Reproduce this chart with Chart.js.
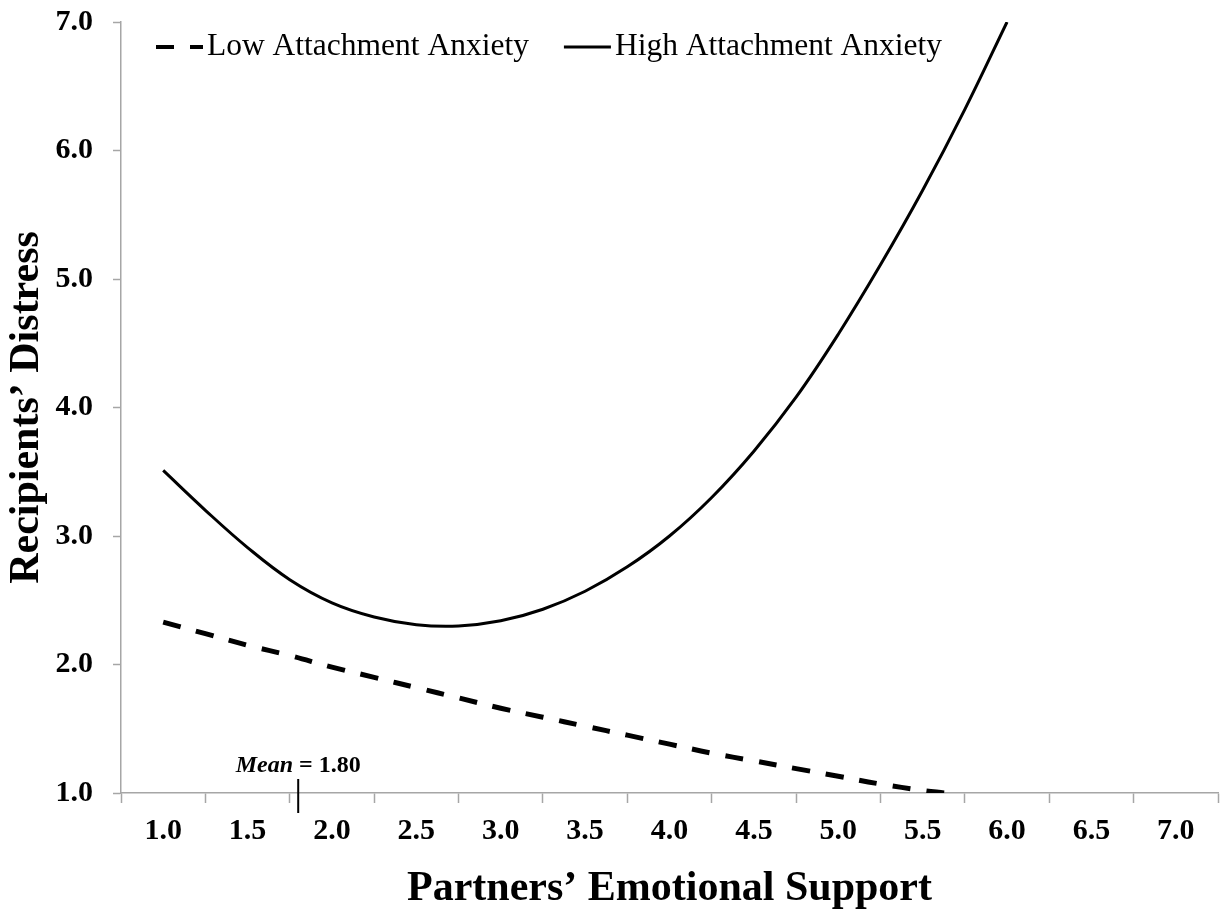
<!DOCTYPE html>
<html>
<head>
<meta charset="utf-8">
<title>Recipients’ Distress</title>
<script src="https://cdn.jsdelivr.net/npm/chart.js"></script>
<style>
  html, body { margin: 0; padding: 0; background: #fff; }
  #wrap { width: 1224px; height: 912px; }
</style>
</head>
<body>
<div id="wrap"><canvas id="distress-chart"></canvas></div>
<script>
// partners' support level (x) and recipients' predicted distress per group
const supportLow = [1.00, 1.25, 1.50, 1.75, 2.00, 2.25, 2.50, 2.75, 3.00, 3.25,
                    3.50, 3.75, 4.00, 4.25, 4.50, 4.75, 5.00, 5.25, 5.50, 5.63];
const distressLow = [2.33, 2.24, 2.15, 2.07, 1.98, 1.90, 1.82, 1.74, 1.66, 1.59,
                     1.52, 1.45, 1.38, 1.31, 1.25, 1.19, 1.13, 1.07, 1.02, 1.00];

const supportHigh = [1.00, 1.25, 1.50, 1.75, 2.00, 2.25, 2.50, 2.75, 3.00, 3.25, 3.50,
                     3.75, 4.00, 4.25, 4.50, 4.75, 5.00, 5.25, 5.50, 5.75, 6.00];
const distressHigh = [3.51, 3.20, 2.91, 2.66, 2.48, 2.37, 2.31, 2.30, 2.34, 2.43, 2.57,
                      2.76, 3.00, 3.30, 3.66, 4.08, 4.57, 5.11, 5.69, 6.32, 7.00];

const supportTicks = [1.0, 1.5, 2.0, 2.5, 3.0, 3.5, 4.0, 4.5, 5.0, 5.5, 6.0, 6.5, 7.0];
const distressTicks = [1.0, 2.0, 3.0, 4.0, 5.0, 6.0, 7.0];
const supportMean = 1.80;

const serif = "'Liberation Serif', 'Times New Roman', serif";
const axisGrey = '#a6a6a6';

const isLabelTick = v => supportTicks.some(t => Math.abs(t - v) < 1e-6);

// key drawn inside the plot, top left
const seriesKey = {
  id: 'seriesKey',
  afterDraw(chart) {
    const ctx = chart.ctx;
    const y = chart.chartArea.top + 25;
    let x = chart.chartArea.left + 35;
    ctx.save();
    ctx.font = '31.5px ' + serif;
    ctx.fillStyle = '#000';
    ctx.textBaseline = 'alphabetic';
    chart.data.datasets.forEach(ds => {
      ctx.beginPath();
      ctx.setLineDash(ds.borderDash || []);
      ctx.lineWidth = Math.min(ds.borderWidth, 4);
      ctx.strokeStyle = ds.borderColor;
      ctx.moveTo(x, y);
      ctx.lineTo(x + 47, y);
      ctx.stroke();
      ctx.setLineDash([]);
      x += 51;
      ctx.fillText(ds.label, x, y + 8);
      x += ctx.measureText(ds.label).width + 35;
    });
    ctx.restore();
  }
};

// short marker for the sample mean of support, crossing the x axis
const meanMarker = {
  id: 'meanMarker',
  afterDraw(chart) {
    const ctx = chart.ctx;
    const px = chart.scales.x.getPixelForValue(supportMean);
    const axisY = chart.scales.y.getPixelForValue(distressTicks[0]);
    ctx.save();
    ctx.strokeStyle = '#000';
    ctx.lineWidth = 2;
    ctx.beginPath();
    ctx.moveTo(px, axisY - 14);
    ctx.lineTo(px, axisY + 20);
    ctx.stroke();

    const word = 'Mean';
    const rest = ' = ' + supportMean.toFixed(2);
    ctx.font = 'italic bold 24px ' + serif;
    const w1 = ctx.measureText(word).width;
    ctx.font = 'bold 24px ' + serif;
    const w2 = ctx.measureText(rest).width;
    const start = px - (w1 + w2) / 2;
    ctx.fillStyle = '#000';
    ctx.textBaseline = 'alphabetic';
    ctx.font = 'italic bold 24px ' + serif;
    ctx.fillText(word, start, axisY - 21);
    ctx.font = 'bold 24px ' + serif;
    ctx.fillText(rest, start + w1, axisY - 21);
    ctx.restore();
  }
};

const ctxt = document.getElementById('distress-chart').getContext('2d');

const distressChart = new Chart(ctxt, {
  type: 'line',
  data: {
    datasets: [
      {
        label: 'Low Attachment Anxiety',
        data: supportLow.map((x, i) => ({ x, y: distressLow[i] })),
        borderColor: '#000',
        borderWidth: 5,
        borderDash: [18, 16],
        pointRadius: 0,
        tension: 0.4,
        clip: 0
      },
      {
        label: 'High Attachment Anxiety',
        data: supportHigh.map((x, i) => ({ x, y: distressHigh[i] })),
        borderColor: '#000',
        borderWidth: 3,
        pointRadius: 0,
        tension: 0.4,
        clip: 0
      }
    ]
  },
  options: {
    responsive: true,
    maintainAspectRatio: false,
    animation: false,
    devicePixelRatio: 1,
    layout: { padding: { left: 0, top: 22, right: 6, bottom: 0 } },
    plugins: {
      legend: { display: false },
      tooltip: { enabled: false }
    },
    scales: {
      x: {
        type: 'linear',
        min: 0.75,
        max: 7.25,
        afterFit: s => {
          s.height = 119;
          s.paddingLeft = 0;
          s.paddingRight = 0;
        },
        border: { color: axisGrey, width: 1.5 },
        grid: {
          drawOnChartArea: false,
          tickLength: 10,
          tickWidth: 1.5,
          tickColor: c => (c.tick && !isLabelTick(c.tick.value)) ? axisGrey : 'rgba(0,0,0,0)'
        },
        ticks: {
          stepSize: 0.25,
          autoSkip: false,
          maxRotation: 0,
          minRotation: 0,
          padding: 10,
          color: '#000',
          font: { family: serif, size: 30, weight: 'bold' },
          callback: v => isLabelTick(v) ? v.toFixed(1) : ''
        },
        title: {
          display: true,
          text: 'Partners’ Emotional Support',
          color: '#000',
          font: { family: serif, size: 42, weight: 'bold', lineHeight: 1 },
          padding: { top: 0, bottom: 2 }
        }
      },
      y: {
        min: 1,
        max: 7,
        afterFit: s => {
          s.width = 121;
          s.paddingTop = 18;
          s.paddingBottom = 18;
        },
        afterBuildTicks: s => { s.ticks = distressTicks.map(v => ({ value: v })); },
        border: { color: axisGrey, width: 1.5 },
        grid: {
          drawOnChartArea: false,
          tickLength: 8,
          tickWidth: 1.5,
          tickColor: axisGrey
        },
        ticks: {
          padding: 20,
          color: '#000',
          font: { family: serif, size: 30, weight: 'bold' },
          callback: v => v.toFixed(1)
        },
        title: {
          display: true,
          text: 'Recipients’ Distress',
          color: '#000',
          font: { family: serif, size: 42, weight: 'bold', lineHeight: 1 },
          padding: { top: 6, bottom: 0 }
        }
      }
    }
  },
  plugins: [seriesKey, meanMarker]
});
</script>
</body>
</html>
